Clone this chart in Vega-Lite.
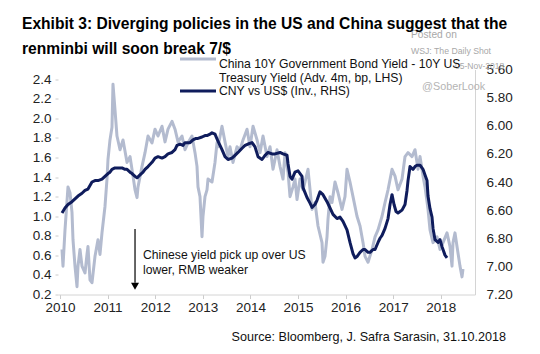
{
  "$schema": "https://vega.github.io/schema/vega-lite/v6.json",
  "width": 417,
  "height": 225,
  "autosize": {"type": "none"},
  "padding": {"left": 58, "top": 69.5, "right": 65, "bottom": 59.5},
  "background": "#ffffff",
  "config": {
    "view": {"stroke": null},
    "font": "Liberation Sans",
    "axis": {"grid": false, "labelFont": "Liberation Sans", "labelFontSize": 13.5, "labelColor": "#222222", "tickColor": "#cccccc", "domainColor": "#d4d4d4"}
  },
  "title": {
    "text": ["Exhibit 3: Diverging policies in the US and China suggest that the", "renminbi will soon break 7/$"],
    "anchor": "start",
    "frame": "group",
    "dx": -36,
    "dy": 28,
    "font": "Liberation Sans",
    "fontWeight": "bold",
    "fontSize": 15.6,
    "lineHeight": 25,
    "color": "#000000",
    "offset": 0
  },
  "data": {"values": [
    {"series":"spread","year":2010.042,"value":0.66},{"series":"spread","year":2010.063,"value":0.49},{"series":"spread","year":2010.105,"value":0.86},{"series":"spread","year":2010.168,"value":1.30},{"series":"spread","year":2010.210,"value":1.24},{"series":"spread","year":2010.252,"value":1.04},{"series":"spread","year":2010.273,"value":0.76},{"series":"spread","year":2010.315,"value":0.49},{"series":"spread","year":2010.357,"value":0.28},{"series":"spread","year":2010.378,"value":0.49},{"series":"spread","year":2010.420,"value":0.66},{"series":"spread","year":2010.462,"value":0.49},{"series":"spread","year":2010.525,"value":0.42},{"series":"spread","year":2010.567,"value":0.61},{"series":"spread","year":2010.588,"value":0.69},{"series":"spread","year":2010.630,"value":0.35},{"series":"spread","year":2010.672,"value":0.32},{"series":"spread","year":2010.735,"value":0.59},{"series":"spread","year":2010.798,"value":0.76},{"series":"spread","year":2010.840,"value":0.61},{"series":"spread","year":2010.882,"value":0.83},{"series":"spread","year":2010.945,"value":1.10},{"series":"spread","year":2010.987,"value":1.38},{"series":"spread","year":2011.008,"value":1.58},{"series":"spread","year":2011.050,"value":1.78},{"series":"spread","year":2011.092,"value":1.91},{"series":"spread","year":2011.113,"value":2.35},{"series":"spread","year":2011.155,"value":2.09},{"series":"spread","year":2011.197,"value":1.82},{"series":"spread","year":2011.261,"value":1.68},{"series":"spread","year":2011.324,"value":1.78},{"series":"spread","year":2011.408,"value":1.55},{"series":"spread","year":2011.471,"value":1.61},{"series":"spread","year":2011.534,"value":1.41},{"series":"spread","year":2011.576,"value":1.27},{"series":"spread","year":2011.618,"value":1.19},{"series":"spread","year":2011.639,"value":1.30},{"series":"spread","year":2011.723,"value":1.51},{"series":"spread","year":2011.786,"value":1.65},{"series":"spread","year":2011.849,"value":1.82},{"series":"spread","year":2011.933,"value":1.75},{"series":"spread","year":2011.996,"value":1.89},{"series":"spread","year":2012.059,"value":1.82},{"series":"spread","year":2012.143,"value":1.92},{"series":"spread","year":2012.206,"value":1.76},{"series":"spread","year":2012.269,"value":1.89},{"series":"spread","year":2012.353,"value":1.97},{"series":"spread","year":2012.416,"value":1.89},{"series":"spread","year":2012.479,"value":1.76},{"series":"spread","year":2012.563,"value":1.82},{"series":"spread","year":2012.626,"value":1.68},{"series":"spread","year":2012.689,"value":1.75},{"series":"spread","year":2012.773,"value":1.82},{"series":"spread","year":2012.836,"value":1.65},{"series":"spread","year":2012.878,"value":1.51},{"series":"spread","year":2012.899,"value":1.30},{"series":"spread","year":2012.941,"value":1.20},{"series":"spread","year":2012.983,"value":0.79},{"series":"spread","year":2013.004,"value":1.00},{"series":"spread","year":2013.046,"value":1.20},{"series":"spread","year":2013.088,"value":1.27},{"series":"spread","year":2013.109,"value":1.38},{"series":"spread","year":2013.193,"value":1.35},{"series":"spread","year":2013.256,"value":1.55},{"series":"spread","year":2013.298,"value":1.75},{"series":"spread","year":2013.319,"value":1.71},{"series":"spread","year":2013.403,"value":1.92},{"series":"spread","year":2013.466,"value":1.76},{"series":"spread","year":2013.529,"value":1.61},{"series":"spread","year":2013.571,"value":1.71},{"series":"spread","year":2013.634,"value":1.55},{"series":"spread","year":2013.718,"value":1.71},{"series":"spread","year":2013.782,"value":1.68},{"series":"spread","year":2013.845,"value":1.78},{"series":"spread","year":2013.929,"value":1.89},{"series":"spread","year":2013.992,"value":1.71},{"series":"spread","year":2014.055,"value":1.92},{"series":"spread","year":2014.139,"value":1.78},{"series":"spread","year":2014.202,"value":1.65},{"series":"spread","year":2014.265,"value":1.82},{"series":"spread","year":2014.349,"value":1.61},{"series":"spread","year":2014.412,"value":1.71},{"series":"spread","year":2014.475,"value":1.48},{"series":"spread","year":2014.559,"value":1.68},{"series":"spread","year":2014.622,"value":1.51},{"series":"spread","year":2014.685,"value":1.38},{"series":"spread","year":2014.727,"value":1.65},{"series":"spread","year":2014.790,"value":1.45},{"series":"spread","year":2014.832,"value":1.20},{"series":"spread","year":2014.895,"value":1.30},{"series":"spread","year":2014.937,"value":1.38},{"series":"spread","year":2014.979,"value":1.17},{"series":"spread","year":2015.042,"value":1.38},{"series":"spread","year":2015.105,"value":1.27},{"series":"spread","year":2015.147,"value":1.35},{"series":"spread","year":2015.210,"value":1.48},{"series":"spread","year":2015.294,"value":1.07},{"series":"spread","year":2015.357,"value":1.14},{"series":"spread","year":2015.420,"value":0.90},{"series":"spread","year":2015.504,"value":0.73},{"series":"spread","year":2015.525,"value":0.53},{"series":"spread","year":2015.567,"value":0.59},{"series":"spread","year":2015.609,"value":0.79},{"series":"spread","year":2015.630,"value":0.97},{"series":"spread","year":2015.672,"value":1.20},{"series":"spread","year":2015.714,"value":1.14},{"series":"spread","year":2015.777,"value":1.35},{"series":"spread","year":2015.840,"value":1.24},{"series":"spread","year":2015.924,"value":1.07},{"series":"spread","year":2015.987,"value":1.20},{"series":"spread","year":2016.029,"value":1.48},{"series":"spread","year":2016.092,"value":1.35},{"series":"spread","year":2016.155,"value":1.20},{"series":"spread","year":2016.239,"value":1.00},{"series":"spread","year":2016.303,"value":0.90},{"series":"spread","year":2016.366,"value":0.73},{"series":"spread","year":2016.408,"value":0.59},{"series":"spread","year":2016.471,"value":0.53},{"series":"spread","year":2016.555,"value":0.66},{"series":"spread","year":2016.618,"value":0.79},{"series":"spread","year":2016.681,"value":0.86},{"series":"spread","year":2016.765,"value":1.00},{"series":"spread","year":2016.828,"value":1.14},{"series":"spread","year":2016.891,"value":1.27},{"series":"spread","year":2016.975,"value":1.48},{"series":"spread","year":2017.038,"value":1.41},{"series":"spread","year":2017.101,"value":1.27},{"series":"spread","year":2017.185,"value":1.38},{"series":"spread","year":2017.248,"value":1.61},{"series":"spread","year":2017.311,"value":1.65},{"series":"spread","year":2017.395,"value":1.61},{"series":"spread","year":2017.458,"value":1.68},{"series":"spread","year":2017.521,"value":1.48},{"series":"spread","year":2017.563,"value":1.61},{"series":"spread","year":2017.626,"value":1.41},{"series":"spread","year":2017.668,"value":1.30},{"series":"spread","year":2017.731,"value":1.07},{"series":"spread","year":2017.773,"value":0.86},{"series":"spread","year":2017.836,"value":0.73},{"series":"spread","year":2017.920,"value":0.79},{"series":"spread","year":2017.983,"value":0.66},{"series":"spread","year":2018.046,"value":0.73},{"series":"spread","year":2018.130,"value":0.83},{"series":"spread","year":2018.193,"value":0.69},{"series":"spread","year":2018.235,"value":0.49},{"series":"spread","year":2018.256,"value":0.73},{"series":"spread","year":2018.298,"value":0.83},{"series":"spread","year":2018.340,"value":0.69},{"series":"spread","year":2018.403,"value":0.49},{"series":"spread","year":2018.445,"value":0.38},{"series":"spread","year":2018.466,"value":0.46},
    {"series":"cny","year":2010.042,"value":6.62},{"series":"cny","year":2010.105,"value":6.585},{"series":"cny","year":2010.168,"value":6.56},{"series":"cny","year":2010.252,"value":6.54},{"series":"cny","year":2010.315,"value":6.52},{"series":"cny","year":2010.378,"value":6.50},{"series":"cny","year":2010.462,"value":6.48},{"series":"cny","year":2010.525,"value":6.46},{"series":"cny","year":2010.588,"value":6.45},{"series":"cny","year":2010.672,"value":6.40},{"series":"cny","year":2010.735,"value":6.39},{"series":"cny","year":2010.798,"value":6.39},{"series":"cny","year":2010.882,"value":6.38},{"series":"cny","year":2010.945,"value":6.36},{"series":"cny","year":2011.008,"value":6.34},{"series":"cny","year":2011.050,"value":6.33},{"series":"cny","year":2011.092,"value":6.31},{"series":"cny","year":2011.155,"value":6.30},{"series":"cny","year":2011.197,"value":6.30},{"series":"cny","year":2011.261,"value":6.30},{"series":"cny","year":2011.303,"value":6.30},{"series":"cny","year":2011.366,"value":6.31},{"series":"cny","year":2011.408,"value":6.31},{"series":"cny","year":2011.471,"value":6.33},{"series":"cny","year":2011.513,"value":6.34},{"series":"cny","year":2011.576,"value":6.36},{"series":"cny","year":2011.618,"value":6.37},{"series":"cny","year":2011.681,"value":6.35},{"series":"cny","year":2011.744,"value":6.33},{"series":"cny","year":2011.786,"value":6.31},{"series":"cny","year":2011.849,"value":6.29},{"series":"cny","year":2011.933,"value":6.26},{"series":"cny","year":2011.996,"value":6.23},{"series":"cny","year":2012.059,"value":6.22},{"series":"cny","year":2012.143,"value":6.23},{"series":"cny","year":2012.206,"value":6.22},{"series":"cny","year":2012.269,"value":6.20},{"series":"cny","year":2012.353,"value":6.19},{"series":"cny","year":2012.416,"value":6.17},{"series":"cny","year":2012.458,"value":6.14},{"series":"cny","year":2012.521,"value":6.13},{"series":"cny","year":2012.584,"value":6.14},{"series":"cny","year":2012.626,"value":6.12},{"series":"cny","year":2012.689,"value":6.12},{"series":"cny","year":2012.731,"value":6.12},{"series":"cny","year":2012.794,"value":6.10},{"series":"cny","year":2012.857,"value":6.09},{"series":"cny","year":2012.899,"value":6.09},{"series":"cny","year":2012.983,"value":6.08},{"series":"cny","year":2013.046,"value":6.07},{"series":"cny","year":2013.088,"value":6.07},{"series":"cny","year":2013.151,"value":6.06},{"series":"cny","year":2013.193,"value":6.05},{"series":"cny","year":2013.256,"value":6.06},{"series":"cny","year":2013.319,"value":6.11},{"series":"cny","year":2013.361,"value":6.14},{"series":"cny","year":2013.403,"value":6.17},{"series":"cny","year":2013.466,"value":6.22},{"series":"cny","year":2013.529,"value":6.24},{"series":"cny","year":2013.613,"value":6.23},{"series":"cny","year":2013.676,"value":6.21},{"series":"cny","year":2013.739,"value":6.19},{"series":"cny","year":2013.824,"value":6.16},{"series":"cny","year":2013.887,"value":6.14},{"series":"cny","year":2013.950,"value":6.13},{"series":"cny","year":2014.034,"value":6.12},{"series":"cny","year":2014.097,"value":6.15},{"series":"cny","year":2014.160,"value":6.22},{"series":"cny","year":2014.244,"value":6.24},{"series":"cny","year":2014.307,"value":6.21},{"series":"cny","year":2014.370,"value":6.19},{"series":"cny","year":2014.454,"value":6.20},{"series":"cny","year":2014.517,"value":6.20},{"series":"cny","year":2014.622,"value":6.19},{"series":"cny","year":2014.685,"value":6.20},{"series":"cny","year":2014.769,"value":6.21},{"series":"cny","year":2014.790,"value":6.27},{"series":"cny","year":2014.832,"value":6.36},{"series":"cny","year":2014.874,"value":6.38},{"series":"cny","year":2014.937,"value":6.33},{"series":"cny","year":2015.000,"value":6.32},{"series":"cny","year":2015.084,"value":6.36},{"series":"cny","year":2015.105,"value":6.44},{"series":"cny","year":2015.189,"value":6.51},{"series":"cny","year":2015.252,"value":6.55},{"series":"cny","year":2015.294,"value":6.58},{"series":"cny","year":2015.357,"value":6.56},{"series":"cny","year":2015.399,"value":6.53},{"series":"cny","year":2015.462,"value":6.47},{"series":"cny","year":2015.525,"value":6.49},{"series":"cny","year":2015.609,"value":6.54},{"series":"cny","year":2015.672,"value":6.585},{"series":"cny","year":2015.735,"value":6.63},{"series":"cny","year":2015.819,"value":6.66},{"series":"cny","year":2015.882,"value":6.65},{"series":"cny","year":2015.945,"value":6.68},{"series":"cny","year":2016.029,"value":6.74},{"series":"cny","year":2016.092,"value":6.83},{"series":"cny","year":2016.155,"value":6.91},{"series":"cny","year":2016.197,"value":6.94},{"series":"cny","year":2016.239,"value":6.93},{"series":"cny","year":2016.303,"value":6.90},{"series":"cny","year":2016.366,"value":6.88},{"series":"cny","year":2016.408,"value":6.88},{"series":"cny","year":2016.471,"value":6.90},{"series":"cny","year":2016.513,"value":6.90},{"series":"cny","year":2016.576,"value":6.88},{"series":"cny","year":2016.618,"value":6.88},{"series":"cny","year":2016.681,"value":6.83},{"series":"cny","year":2016.723,"value":6.80},{"series":"cny","year":2016.765,"value":6.78},{"series":"cny","year":2016.828,"value":6.73},{"series":"cny","year":2016.891,"value":6.66},{"series":"cny","year":2016.933,"value":6.56},{"series":"cny","year":2016.975,"value":6.49},{"series":"cny","year":2017.017,"value":6.56},{"series":"cny","year":2017.059,"value":6.61},{"series":"cny","year":2017.101,"value":6.62},{"series":"cny","year":2017.143,"value":6.61},{"series":"cny","year":2017.185,"value":6.60},{"series":"cny","year":2017.248,"value":6.56},{"series":"cny","year":2017.290,"value":6.46},{"series":"cny","year":2017.311,"value":6.39},{"series":"cny","year":2017.353,"value":6.29},{"series":"cny","year":2017.416,"value":6.31},{"series":"cny","year":2017.458,"value":6.29},{"series":"cny","year":2017.500,"value":6.28},{"series":"cny","year":2017.563,"value":6.28},{"series":"cny","year":2017.626,"value":6.31},{"series":"cny","year":2017.668,"value":6.35},{"series":"cny","year":2017.710,"value":6.39},{"series":"cny","year":2017.731,"value":6.50},{"series":"cny","year":2017.773,"value":6.59},{"series":"cny","year":2017.815,"value":6.65},{"series":"cny","year":2017.836,"value":6.73},{"series":"cny","year":2017.878,"value":6.81},{"series":"cny","year":2017.941,"value":6.83},{"series":"cny","year":2017.983,"value":6.81},{"series":"cny","year":2018.025,"value":6.86},{"series":"cny","year":2018.046,"value":6.88},{"series":"cny","year":2018.088,"value":6.92},{"series":"cny","year":2018.130,"value":6.94}
  ]},
  "layer": [
    {
      "transform": [{"filter": "datum.series == 'spread'"}],
      "mark": {"type": "line", "strokeWidth": 3, "strokeJoin": "round"},
      "encoding": {
        "x": {"field": "year", "type": "quantitative", "scale": {"domain": [2009.958, 2018.718], "nice": false, "zero": false},
              "axis": {"title": null, "values": [2010, 2011, 2012, 2013, 2014, 2015, 2016, 2017, 2018], "format": "d", "tickSize": 4, "labelPadding": 2, "labelFlush": false, "labelOverlap": false}},
        "y": {"field": "value", "type": "quantitative", "scale": {"domain": [0.2, 2.5], "nice": false, "zero": false},
              "axis": {"title": null, "values": [0.2, 0.4, 0.6, 0.8, 1.0, 1.2, 1.4, 1.6, 1.8, 2.0, 2.2, 2.4], "format": ".1f", "domain": false, "tickSize": 3, "labelPadding": 4}},
        "color": {"field": "series", "type": "nominal",
                  "scale": {"domain": ["spread", "cny"], "range": ["#b3bbcf", "#0f1c5c"]},
                  "legend": {"title": null, "orient": "none", "legendX": 132.5, "legendY": -18, "padding": 0, "symbolType": "M-3,0H3", "symbolSize": 144, "symbolStrokeWidth": 3, "labelFont": "Liberation Sans", "labelFontSize": 12.2, "labelColor": "#111111", "labelOffset": 13.5, "labelLimit": 500, "rowPadding": 0,
                             "labelExpr": "datum.value == 'cny' ? 'CNY vs US$ (Inv., RHS)' : ['China 10Y Government Bond Yield - 10Y US', 'Treasury Yield (Adv. 4m, bp, LHS)']",
                             "encode": {"labels": {"update": {"dy": {"signal": "datum.value == 'cny' ? -4 : 4.5"}, "lineHeight": {"value": 14.5}}},
                                        "symbols": {"update": {"y": {"signal": "datum.value == 'cny' ? 3.5 : 7.5"}}}}}}
      }
    },
    {
      "transform": [{"filter": "datum.series == 'cny'"}],
      "mark": {"type": "line", "strokeWidth": 3, "strokeJoin": "round"},
      "encoding": {
        "x": {"field": "year", "type": "quantitative", "scale": {"domain": [2009.958, 2018.718], "nice": false, "zero": false}},
        "y": {"field": "value", "type": "quantitative", "scale": {"domain": [5.6, 7.2], "nice": false, "zero": false, "reverse": true},
              "axis": {"orient": "right", "title": null, "values": [5.6, 5.8, 6.0, 6.2, 6.4, 6.6, 6.8, 7.0, 7.2], "format": ".2f", "ticks": false, "domain": true, "labelPadding": 11}},
        "color": {"field": "series", "type": "nominal",
                  "scale": {"domain": ["spread", "cny"], "range": ["#b3bbcf", "#0f1c5c"]},
                  "legend": {"title": null, "orient": "none", "legendX": 132.5, "legendY": -18, "padding": 0, "symbolType": "M-3,0H3", "symbolSize": 144, "symbolStrokeWidth": 3, "labelFont": "Liberation Sans", "labelFontSize": 12.2, "labelColor": "#111111", "labelOffset": 13.5, "labelLimit": 500, "rowPadding": 0,
                             "labelExpr": "datum.value == 'cny' ? 'CNY vs US$ (Inv., RHS)' : ['China 10Y Government Bond Yield - 10Y US', 'Treasury Yield (Adv. 4m, bp, LHS)']",
                             "encode": {"labels": {"update": {"dy": {"signal": "datum.value == 'cny' ? -4 : 4.5"}, "lineHeight": {"value": 14.5}}},
                                        "symbols": {"update": {"y": {"signal": "datum.value == 'cny' ? 3.5 : 7.5"}}}}}}
      }
    },
    {
      "data": {"values": [{}]},
      "mark": {"type": "rule", "color": "#000000", "strokeWidth": 1.2},
      "encoding": {
        "x": {"datum": 2011.576, "type": "quantitative", "scale": {"domain": [2009.958, 2018.718], "nice": false, "zero": false}},
        "y": {"datum": 0.87, "type": "quantitative", "scale": {"domain": [0.2, 2.5], "nice": false, "zero": false}, "axis": null},
        "y2": {"datum": 0.32}
      }
    },
    {
      "data": {"values": [{}]},
      "mark": {"type": "point", "shape": "triangle-down", "filled": true, "fill": "#000000", "strokeWidth": 0, "size": 64, "opacity": 1},
      "encoding": {
        "x": {"datum": 2011.576, "type": "quantitative", "scale": {"domain": [2009.958, 2018.718], "nice": false, "zero": false}},
        "y": {"datum": 0.285, "type": "quantitative", "scale": {"domain": [0.2, 2.5], "nice": false, "zero": false}, "axis": null}
      }
    },
    {
      "data": {"values": [{}]},
      "mark": {"type": "text", "align": "left", "baseline": "alphabetic", "fontSize": 12.2, "lineHeight": 15, "fill": "#111111", "font": "Liberation Sans", "clip": false},
      "encoding": {
        "x": {"datum": 2011.744, "type": "quantitative", "scale": {"domain": [2009.958, 2018.718], "nice": false, "zero": false}},
        "y": {"datum": 0.568, "type": "quantitative", "scale": {"domain": [0.2, 2.5], "nice": false, "zero": false}, "axis": null},
        "text": {"value": ["Chinese yield pick up over US", "lower, RMB  weaker"]}
      }
    },
    {
      "data": {"values": [{}]},
      "mark": {"type": "text", "align": "left", "baseline": "middle", "fontSize": 10.2, "fill": "#a8a8a8", "font": "Liberation Sans", "clip": false},
      "encoding": {
        "x": {"datum": 2017.374, "type": "quantitative", "scale": {"domain": [2009.958, 2018.718], "nice": false, "zero": false}},
        "y": {"datum": 2.853, "type": "quantitative", "scale": {"domain": [0.2, 2.5], "nice": false, "zero": false}, "axis": null},
        "text": {"value": "Posted on"}
      }
    },
    {
      "data": {"values": [{}]},
      "mark": {"type": "text", "align": "left", "baseline": "middle", "fontSize": 8.7, "fill": "#a8a8a8", "font": "Liberation Sans", "clip": false},
      "encoding": {
        "x": {"datum": 2017.374, "type": "quantitative", "scale": {"domain": [2009.958, 2018.718], "nice": false, "zero": false}},
        "y": {"datum": 2.689, "type": "quantitative", "scale": {"domain": [0.2, 2.5], "nice": false, "zero": false}, "axis": null},
        "text": {"value": "WSJ: The Daily Shot"}
      }
    },
    {
      "data": {"values": [{}]},
      "mark": {"type": "text", "align": "left", "baseline": "middle", "fontSize": 8.5, "fill": "#a8a8a8", "font": "Liberation Sans", "clip": false},
      "encoding": {
        "x": {"datum": 2018.298, "type": "quantitative", "scale": {"domain": [2009.958, 2018.718], "nice": false, "zero": false}},
        "y": {"datum": 2.536, "type": "quantitative", "scale": {"domain": [0.2, 2.5], "nice": false, "zero": false}, "axis": null},
        "text": {"value": "05-Nov-2018"}
      }
    },
    {
      "data": {"values": [{}]},
      "mark": {"type": "text", "align": "left", "baseline": "middle", "fontSize": 10.8, "fill": "#b4b4b4", "font": "Liberation Sans", "clip": false},
      "encoding": {
        "x": {"datum": 2017.605, "type": "quantitative", "scale": {"domain": [2009.958, 2018.718], "nice": false, "zero": false}},
        "y": {"datum": 2.321, "type": "quantitative", "scale": {"domain": [0.2, 2.5], "nice": false, "zero": false}, "axis": null},
        "text": {"value": "@SoberLook"}
      }
    },
    {
      "data": {"values": [{}]},
      "mark": {"type": "text", "align": "right", "baseline": "middle", "fontSize": 12.6, "fill": "#111111", "font": "Liberation Sans", "clip": false},
      "encoding": {
        "x": {"datum": 2019.37, "type": "quantitative", "scale": {"domain": [2009.958, 2018.718], "nice": false, "zero": false}},
        "y": {"datum": -0.234, "type": "quantitative", "scale": {"domain": [0.2, 2.5], "nice": false, "zero": false}, "axis": null},
        "text": {"value": "Source: Bloomberg, J. Safra Sarasin, 31.10.2018"}
      }
    }
  ],
  "resolve": {"scale": {"y": "independent"}}
}
